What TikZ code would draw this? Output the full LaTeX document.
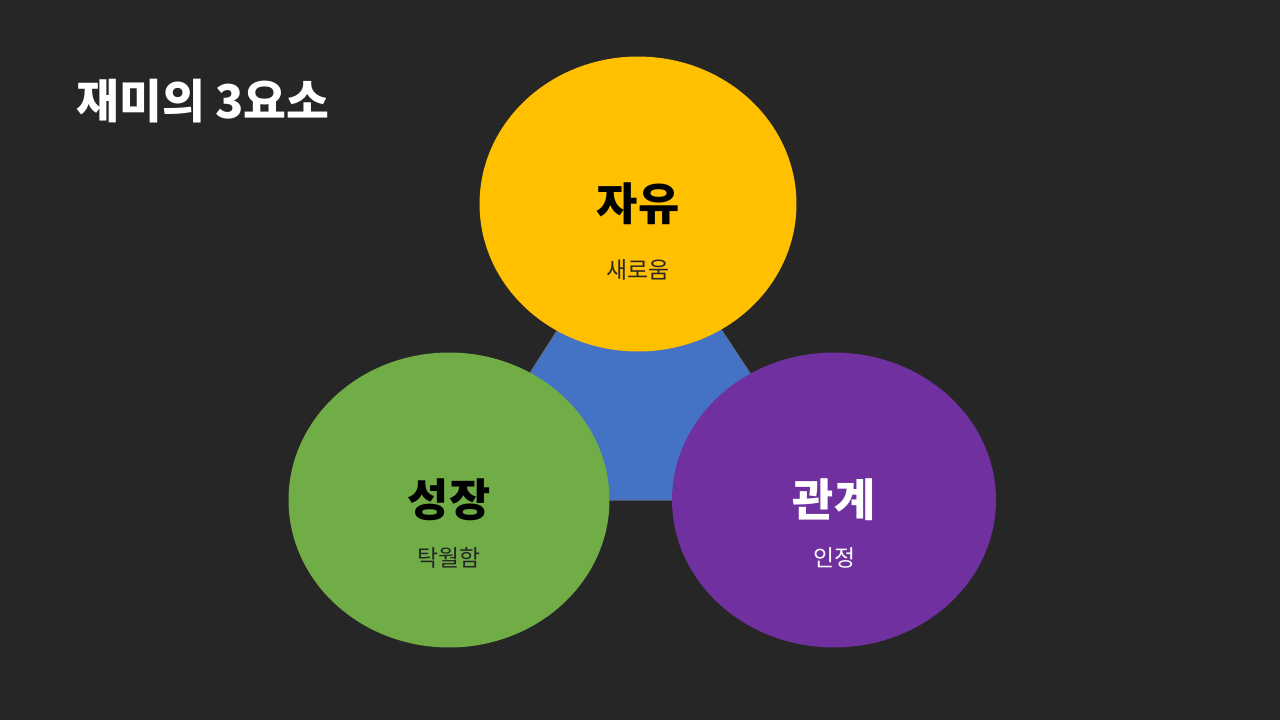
\documentclass[tikz,border=0pt]{standalone}
\usepackage{fontspec}
\setmainfont{Noto Sans CJK KR}[BoldFont={Noto Sans CJK KR Black}]
\usepackage{tikz}
\usetikzlibrary{positioning, shapes.geometric}

\definecolor{bgdark}{HTML}{262626}
\definecolor{yelC}{HTML}{FFC000}
\definecolor{grnC}{HTML}{70AD47}
\definecolor{purC}{HTML}{7030A0}
\definecolor{bluC}{HTML}{4472C4}
\definecolor{bluEdge}{HTML}{5A6E95}

\begin{document}
\begin{tikzpicture}[
  x=0.02cm, y=-0.02cm,
  circ/.style={ellipse, draw=none, minimum width=#1},
  yelB/.style={circ=6.34cm, minimum height=5.9cm, fill=yelC},
  grnB/.style={circ=6.42cm, minimum height=5.9cm, fill=grnC},
  purB/.style={circ=6.48cm, minimum height=5.9cm, fill=purC},
  mainT/.style={font=\fontsize{25.5}{30}\selectfont\bfseries, inner sep=0pt},
  subT/.style={font=\fontsize{13}{15}\selectfont, inner sep=0pt}
]
\fill[bgdark] (0,0) rectangle (1280,720);
\useasboundingbox (0,0) rectangle (1280,720);

\node[anchor=west, text=white, inner sep=0pt, font=\fontsize{26.5}{31}\selectfont\bfseries] (title) at (76,101) {재미의 3요소};

% centres of the three ellipses
\coordinate (cy) at (638,204);
\coordinate (cg) at (449,500);
\coordinate (cp) at (834,500);

\filldraw[fill=bluC, draw=bluEdge, line width=0.6pt] (cy) -- (cg) -- (cp) -- cycle;

\node[yelB] (y) at (cy) {};
\node[grnB] (g) at (cg) {};
\node[purB] (p) at (cp) {};

\node[mainT, text=black] (yt) at (y.center) {자유};
\node[subT, text=black!85] (ys) at ([yshift=-1.32cm]y.center) {새로움};
\node[mainT, text=black] (gt) at (g.center) {성장};
\node[subT, text=black!85] (gs) at ([yshift=-1.16cm]g.center) {탁월함};
\node[mainT, text=white] (pt) at (p.center) {관계};
\node[subT, text=white] (ps) at ([yshift=-1.16cm]p.center) {인정};
\end{tikzpicture}
\end{document}
